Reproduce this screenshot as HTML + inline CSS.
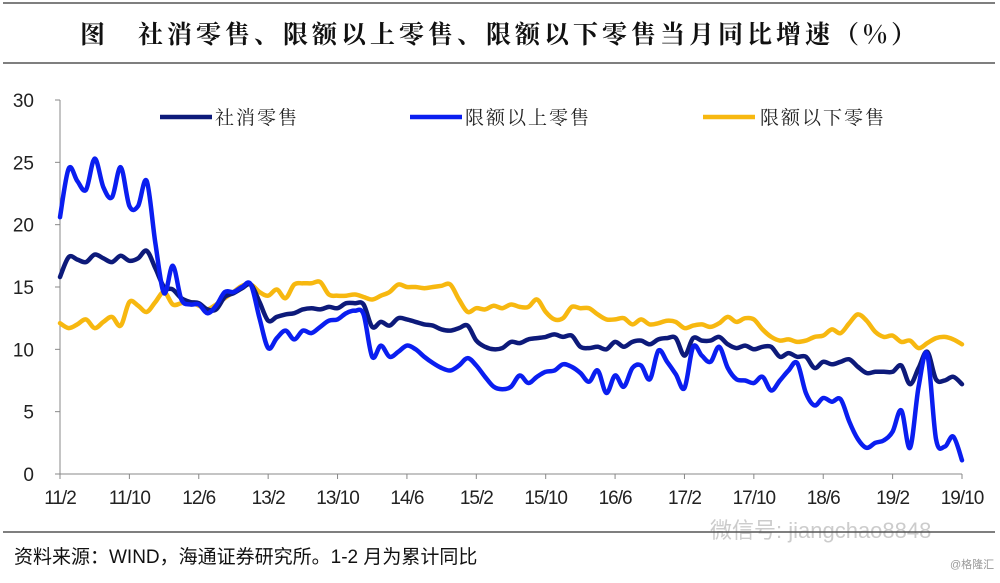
<!DOCTYPE html>
<html><head><meta charset="utf-8"><style>
body{margin:0;background:#fff;width:1000px;height:578px;overflow:hidden;position:relative;font-family:"Liberation Sans","Noto Sans CJK SC",sans-serif}
</style></head><body>
<svg width="1000" height="578" viewBox="0 0 1000 578" xmlns="http://www.w3.org/2000/svg">
<line x1="3" y1="3" x2="995" y2="3" stroke="#555" stroke-width="1.5"/>
<text x="80" y="43" font-family="'Noto Serif CJK SC',serif" font-weight="bold" font-size="25" letter-spacing="4" fill="#111">图　社消零售、限额以上零售、限额以下零售当月同比增速（%）</text>
<line x1="3" y1="63" x2="995" y2="63" stroke="#555" stroke-width="1.5"/>
<g id="axes"></g>
<g id="series"></g>
<g>
<g><line x1="160" y1="117" x2="212" y2="117" stroke="#0d1a7a" stroke-width="4.5"/><text x="215" y="124" font-family="'Noto Serif CJK SC',serif" font-size="19" letter-spacing="2" fill="#222">社消零售</text></g>
<g><line x1="410" y1="117" x2="462" y2="117" stroke="#0a1ef0" stroke-width="4.5"/><text x="465" y="124" font-family="'Noto Serif CJK SC',serif" font-size="19" letter-spacing="2" fill="#222">限额以上零售</text></g>
<g><line x1="703" y1="117" x2="755" y2="117" stroke="#f7b810" stroke-width="4.5"/><text x="760" y="124" font-family="'Noto Serif CJK SC',serif" font-size="19" letter-spacing="2" fill="#222">限额以下零售</text></g>
</g>
<text x="710" y="538" font-size="22" fill="#ccc">微信号: jiangchao8848</text>
<line x1="3" y1="532" x2="995" y2="532" stroke="#555" stroke-width="1.5"/>
<text x="14" y="563" font-size="19" fill="#111">资料来源：WIND，海通证券研究所。1-2 月为累计同比</text>
<text x="950" y="568" font-size="11" fill="#999">@格隆汇</text>
</svg>
<script>
const yTicks=[0,5,10,15,20,25,30];
const xLabels=["11/2","11/10","12/6","13/2","13/10","14/6","15/2","15/10","16/6","17/2","17/10","18/6","19/2","19/10"];
const total=[15.8,17.4,17.2,17.0,17.6,17.3,17.0,17.5,17.1,17.3,17.9,16.5,15.0,14.8,14.1,13.8,13.7,13.2,13.2,14.2,14.5,14.9,15.2,13.8,12.3,12.6,12.8,12.9,13.2,13.3,13.2,13.4,13.3,13.7,13.7,13.6,11.8,12.2,11.9,12.5,12.4,12.2,12.0,11.9,11.6,11.5,11.7,11.9,10.7,10.2,10.0,10.1,10.6,10.5,10.8,10.9,11.0,11.2,11.0,11.1,10.2,10.1,10.2,10.0,10.6,10.2,10.6,10.7,10.4,10.8,10.9,10.9,9.5,10.9,10.7,10.7,11.0,10.4,10.1,10.3,10.0,10.2,10.2,9.4,9.7,9.4,9.4,8.5,9.0,8.8,9.0,9.2,8.6,8.1,8.2,8.2,8.2,8.7,7.2,8.5,9.8,7.6,7.5,7.8,7.2];
const above=[20.6,24.5,23.5,22.8,25.3,23.0,22.2,24.6,21.5,21.5,23.5,18.5,14.5,16.7,14.0,13.6,13.6,12.9,13.5,14.6,14.6,15.0,15.2,12.5,10.1,10.9,11.5,10.8,11.5,11.3,11.8,12.3,12.4,12.9,13.1,12.8,9.4,10.3,9.4,9.8,10.3,10.0,9.4,8.9,8.5,8.3,8.7,9.3,8.7,7.8,7.0,6.8,7.0,7.9,7.3,7.8,8.2,8.3,8.8,8.6,8.1,7.4,8.3,6.5,7.9,7.0,8.5,8.7,7.6,9.9,9.0,8.0,6.9,10.2,9.5,9.0,10.2,8.5,7.6,7.5,7.3,7.8,6.7,7.5,8.3,8.9,6.5,5.5,6.1,5.8,6.0,4.2,2.8,2.1,2.5,2.7,3.4,5.1,2.1,7.0,9.6,2.8,2.2,3.0,1.1];
const below=[12.1,11.7,12.0,12.4,11.7,12.2,12.6,11.9,13.8,13.5,13.0,13.8,14.6,13.6,13.7,13.8,13.5,13.2,13.6,14.1,14.6,15.1,15.2,14.6,14.3,14.8,14.1,15.2,15.3,15.3,15.4,14.4,14.3,14.3,14.4,14.2,14.0,14.3,14.6,15.2,15.0,15.0,14.9,15.0,15.1,15.2,14.0,13.0,13.3,13.2,13.5,13.3,13.6,13.4,13.4,14.0,13.0,12.4,12.5,13.4,13.3,13.3,12.8,12.4,12.4,12.5,12.0,12.4,12.0,12.1,12.3,12.2,11.7,11.9,12.0,11.8,12.1,12.6,12.2,12.5,12.4,11.6,11.0,10.7,10.8,10.6,10.7,11.0,11.1,11.6,11.3,12.1,12.8,12.3,11.4,11.0,11.1,10.6,10.7,10.1,10.5,10.9,11.0,10.8,10.4];
const NS="http://www.w3.org/2000/svg";
const X0=60,X1=962,Y0=474,Y1=100;
const n=total.length;
function xs(i){return X0+(X1-X0)*i/(n-1);}
function ys(v){return Y0-(Y0-Y1)*v/30;}
const axes=document.getElementById('axes');
function mk(tag,attrs,parent){const e=document.createElementNS(NS,tag);for(const k in attrs)e.setAttribute(k,attrs[k]);parent.appendChild(e);return e;}
const ya=mk('line',{x1:X0,y1:Y1,x2:X0,y2:Y0,stroke:'#888','stroke-width':1},axes);


const xa=mk('line',{x1:X0,y1:Y0,x2:X1,y2:Y0,stroke:'#888','stroke-width':1},axes);


yTicks.forEach(v=>{
  mk('line',{x1:X0-5,y1:ys(v),x2:X0,y2:ys(v),stroke:'#888'},axes);
  const t=mk('text',{x:X0-26,y:ys(v)+7,'font-size':19,'text-anchor':'end',fill:'#222'},axes);
  t.textContent=v;
  
  
});
xLabels.forEach((l,k)=>{
  const x=xs(k*8);
  mk('line',{x1:x,y1:Y0,x2:x,y2:Y0+5,stroke:'#888'},axes);
  const t=mk('text',{x:x,y:504,'font-size':19,'text-anchor':'middle',fill:'#222','letter-spacing':'-1'},axes);
  t.textContent=l;
  
  
});
const sg=document.getElementById('series');
function draw(arr,color,name){
  const P=arr.map((v,i)=>[xs(i),ys(v)]);
  let d='M'+P[0][0].toFixed(1)+','+P[0][1].toFixed(1);
  for(let i=0;i<P.length-1;i++){
    const p0=P[Math.max(i-1,0)],p1=P[i],p2=P[i+1],p3=P[Math.min(i+2,P.length-1)];
    const t=0.35/2*2/3*3/2;
    const c1=[p1[0]+(p2[0]-p0[0])/6,p1[1]+(p2[1]-p0[1])/6];
    const c2=[p2[0]-(p3[0]-p1[0])/6,p2[1]-(p3[1]-p1[1])/6];
    d+='C'+c1[0].toFixed(1)+','+c1[1].toFixed(1)+' '+c2[0].toFixed(1)+','+c2[1].toFixed(1)+' '+p2[0].toFixed(1)+','+p2[1].toFixed(1);
  }
  const p=mk('path',{d:d,fill:'none',stroke:color,'stroke-width':4.5,'stroke-linejoin':'round','stroke-linecap':'round'},sg);
  
  
}
draw(below,'#f7b810','line-below-limit');
draw(total,'#0d1a7a','line-total-retail');
draw(above,'#0a1ef0','line-above-limit');
</script>
</body></html>
